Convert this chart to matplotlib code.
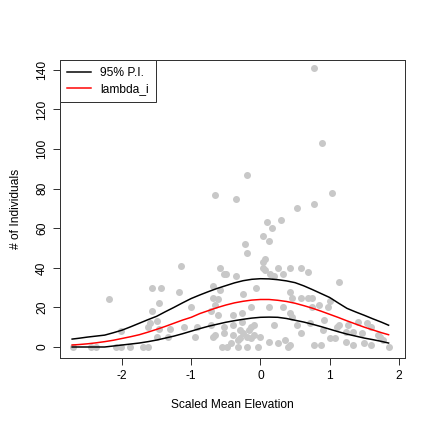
import matplotlib
matplotlib.use("Agg")
import matplotlib.pyplot as plt

plt.rcParams['font.family'] = ['Liberation Sans', 'DejaVu Sans']

# observed data (scaled elevation, counts)
obs_x = [-2.71, -2.45, -2.38, -2.19, -2.09, -2.02, -2.01, -1.89, -1.70, -1.63,
         -1.62, -1.60, -1.57, -1.56, -1.49, -1.49, -1.46, -1.44, -1.47, -1.34,
         -1.30, -1.17, -1.15, -1.11, -1.01, -0.94, -0.91, -0.72, -0.72, -0.68,
         -0.68, -0.65, -0.68, -0.65, -0.62, -0.62, -0.58, -0.58, -0.55, -0.53,
         -0.53, -0.53, -0.48, -0.43, -0.40, -0.39, -0.39, -0.36, -0.33, -0.33,
         -0.29, -0.29, -0.26, -0.26, -0.25, -0.25, -0.23, -0.20, -0.19, -0.19,
         -0.17, -0.14, -0.14, -0.14, -0.10, -0.10, -0.07, -0.04, 0.00, 0.03,
         0.03, 0.04, 0.06, 0.07, 0.09, 0.12, 0.12, 0.12, 0.14, 0.16,
         0.19, 0.19, 0.25, 0.26, 0.29, 0.33, 0.33, 0.36, 0.40, 0.43,
         0.43, 0.43, 0.43, 0.46, 0.46, 0.53, 0.53, 0.58, 0.58, 0.58,
         0.69, 0.69, 0.72, 0.75, 0.75, 0.77, 0.77, 0.77, 0.84, 0.87,
         0.89, 0.91, 0.92, 0.97, 1.01, 1.01, 1.04, 1.08, 1.11, 1.13,
         1.23, 1.27, 1.33, 1.34, 1.41, 1.47, 1.49, 1.54, 1.59, 1.59,
         1.69, 1.73, 1.77, 1.85, -0.20, -0.66, -0.36, -0.50, 1.13, 1.23]
obs_y = [0, 0, 0, 24, 0, 0, 8, 0, 0, 0,
         10, 12, 30, 18, 13, 5, 22, 30, 9, 5,
         9, 28, 41, 10, 20, 5, 10, 18, 11, 31,
         25, 21, 5, 6, 16, 24, 40, 29, 0, 37,
         10, 7, 0, 2, 6, 16, 11, 36, 3.5, 0,
         8.6, 4.5, 17, 12.6, 27, 7, 52, 47.5, 5, 0,
         8.6, 20, 10, 4.5, 11, 6, 30, 0, 5, 56,
         40, 43, 44.5, 39, 63, 53.5, 20, 2.5, 37, 60,
         36, 11, 40, 2, 64, 37, 20, 3.5, 0, 40,
         28, 17, 1, 25, 15, 70, 11, 40, 25, 7,
         38, 25, 12, 25, 20, 72, 141, 1, 21, 1,
         103, 8.6, 13.6, 20, 23, 4.5, 78, 4.5, 10, 33,
         2.5, 11, 1, 7.6, 12.6, 7, 2, 12, 10, 1,
         6, 5, 3.5, 0, 87, 77, 75, 37, 11, 7.6]

# model predictions
grid_x = [-2.72, -2.625, -2.5, -2.375, -2.25, -2.125, -2.0, -1.875, -1.75, -1.625,
          -1.5, -1.375, -1.25, -1.125, -1.0, -0.875, -0.75, -0.625, -0.5, -0.375,
          -0.25, -0.125, 0.0, 0.125, 0.25, 0.375, 0.5, 0.625, 0.75, 0.875,
          1.0, 1.125, 1.25, 1.375, 1.5, 1.625, 1.75, 1.85]
lambda_i = [1.0, 1.23, 1.6, 2.1, 2.7, 3.4, 4.3, 5.2, 6.2, 7.5,
            8.9, 10.4, 12.0, 13.6, 15.0, 16.9, 18.4, 19.9, 21.2, 22.3,
            23.1, 23.7, 24.0, 24.0, 23.6, 23.0, 22.1, 20.9, 19.6, 18.1,
            16.5, 14.9, 13.2, 11.6, 10.0, 8.6, 7.2, 6.2]
pi_upper = [4.0, 4.4, 5.0, 5.5, 6.0, 7.2, 8.5, 10.2, 12.0, 13.8,
            15.5, 17.8, 20.0, 22.3, 24.5, 26.3, 28.0, 29.6, 31.0, 32.4,
            33.5, 34.2, 34.5, 34.4, 34.0, 33.4, 32.5, 30.9, 29.0, 27.0,
            25.0, 22.2, 19.5, 17.7, 16.0, 14.2, 12.5, 11.0]
pi_lower = [0.0, 0.0, 0.0, 0.0, 0.0, 0.5, 1.0, 1.5, 2.0, 2.7,
            3.5, 4.5, 5.5, 6.7, 8.0, 9.3, 10.5, 11.5, 12.5, 13.3,
            14.0, 14.6, 15.0, 15.1, 15.0, 14.4, 13.5, 12.6, 11.5, 10.3,
            9.0, 7.7, 6.5, 5.5, 4.5, 3.7, 2.8, 2.0]

x_ticks = [-2, -1, 0, 1, 2]
y_ticks = [0, 20, 40, 60, 80, 100, 120, 140]

fig = plt.figure(figsize=(6, 6), dpi=72)
ax = fig.add_axes([60/432, 1-358/432, 345/432, 298/432])

ax.plot(obs_x, obs_y, 'o', color='#C8C8C8', markersize=7, markeredgewidth=0, zorder=1)
ax.plot(grid_x, pi_upper, color='black', lw=1.5, label='95% P.I.', zorder=3)
ax.plot(grid_x, pi_lower, color='black', lw=1.5, zorder=3)
ax.plot(grid_x, lambda_i, color='red', lw=1.5, label='lambda_i', zorder=3)

ax.set_xlim(-2.895, 2.087)
ax.set_ylim(-5.56, 145.0)
ax.set_xticks(x_ticks)
ax.set_yticks(y_ticks)
ax.set_xticklabels([str(v) for v in x_ticks])
ax.set_yticklabels([str(v) for v in y_ticks], rotation=90, va='center')
ax.tick_params(direction='out', length=7, width=1, labelsize=12, pad=5, color='#333333')
for s in ax.spines.values():
    s.set_linewidth(1)
    s.set_color('#333333')

ax.set_xlabel('Scaled Mean Elevation', fontsize=12, labelpad=17)
ax.set_ylabel('# of Individuals', fontsize=12, labelpad=14)

leg = ax.legend(loc='upper left', borderaxespad=0, fancybox=False, fontsize=12,
                handlelength=2.0, handletextpad=0.75, borderpad=0.6, labelspacing=0.3,
                framealpha=1)
leg.get_frame().set_edgecolor('#333333')
leg.get_frame().set_linewidth(1)

fig.savefig('out.png', dpi=72)
